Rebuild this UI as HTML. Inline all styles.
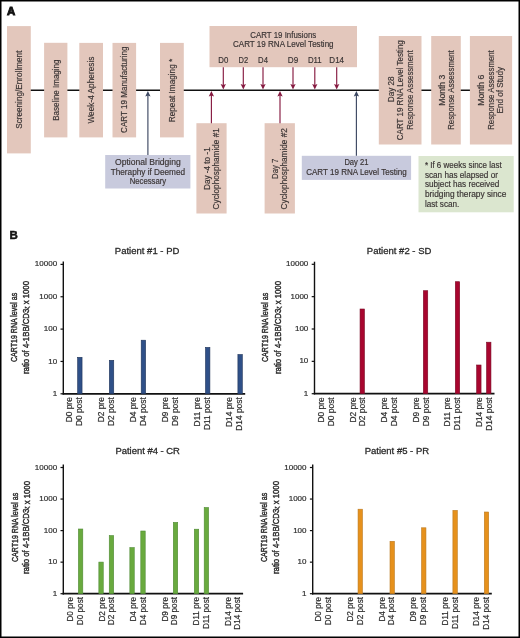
<!DOCTYPE html>
<html><head><meta charset="utf-8"><title>Figure</title>
<style>
html,body{margin:0;padding:0;background:#fff;}
body{width:520px;height:638px;overflow:hidden;}
svg{display:block;font-family:"Liberation Sans", sans-serif;will-change:transform;}
text{stroke-width:0.18px;paint-order:stroke;}
.ct{stroke-width:0.42px;}
</style></head>
<body>
<svg width="520" height="638" viewBox="0 0 520 638">
<rect x="0" y="0" width="520" height="638" fill="#fff"/>
<text x="7.1" y="15.4" font-size="11.4" text-anchor="start" fill="#111" stroke="#111" font-weight="bold" style="stroke-width:0.9px">A</text>
<line x1="30" y1="90.2" x2="470" y2="90.2" stroke="#111" stroke-width="1.4"/>
<rect x="7.0" y="26.1" width="23.8" height="127.3" fill="#e3c7bc"/>
<rect x="44.1" y="42.8" width="23.3" height="94.6" fill="#e3c7bc"/>
<rect x="79.3" y="42.9" width="23.7" height="94.5" fill="#e3c7bc"/>
<rect x="112.5" y="42.9" width="23.6" height="94.5" fill="#e3c7bc"/>
<rect x="160.0" y="42.9" width="23.8" height="94.5" fill="#e3c7bc"/>
<rect x="209.5" y="26.0" width="147.5" height="41.2" fill="#e3c7bc"/>
<rect x="196.4" y="123.2" width="30.2" height="90.3" fill="#e3c7bc"/>
<rect x="264.6" y="123.2" width="30.3" height="90.3" fill="#e3c7bc"/>
<rect x="378.8" y="36.0" width="42.7" height="108.5" fill="#e3c7bc"/>
<rect x="431.2" y="36.0" width="29.6" height="108.5" fill="#e3c7bc"/>
<rect x="469.9" y="36.0" width="42.2" height="108.5" fill="#e3c7bc"/>
<rect x="105.2" y="155.0" width="85.2" height="33.5" fill="#c8cadd"/>
<rect x="301.8" y="155.8" width="109.3" height="24.1" fill="#c8cadd"/>
<rect x="418.5" y="156.0" width="95.2" height="56.3" fill="#dbe6cf"/>
<text transform="translate(18.9,89.7) rotate(-90)" x="0" y="0" font-size="8.7" text-anchor="middle" dominant-baseline="central" fill="#3a3434" stroke="#3a3434" textLength="78.2" lengthAdjust="spacingAndGlyphs">Screening/Enrollment</text>
<text transform="translate(55.75,90.2) rotate(-90)" x="0" y="0" font-size="8.7" text-anchor="middle" dominant-baseline="central" fill="#3a3434" stroke="#3a3434" textLength="61.2" lengthAdjust="spacingAndGlyphs">Baseline Imaging</text>
<text transform="translate(91.15,90.1) rotate(-90)" x="0" y="0" font-size="8.7" text-anchor="middle" dominant-baseline="central" fill="#3a3434" stroke="#3a3434" textLength="67.0" lengthAdjust="spacingAndGlyphs">Week-4 Apheresis</text>
<text transform="translate(124.3,89.75) rotate(-90)" x="0" y="0" font-size="8.7" text-anchor="middle" dominant-baseline="central" fill="#3a3434" stroke="#3a3434" textLength="86.3" lengthAdjust="spacingAndGlyphs">CART 19 Manufacturing</text>
<text transform="translate(171.9,90.5) rotate(-90)" x="0" y="0" font-size="8.7" text-anchor="middle" dominant-baseline="central" fill="#3a3434" stroke="#3a3434" textLength="63.5" lengthAdjust="spacingAndGlyphs">Repeat Imaging *</text>
<text transform="translate(206.6,168.65) rotate(-90)" x="0" y="0" font-size="8.7" text-anchor="middle" dominant-baseline="central" fill="#3a3434" stroke="#3a3434" textLength="42.7" lengthAdjust="spacingAndGlyphs">Day -4 to -1</text>
<text transform="translate(215.6,168.8) rotate(-90)" x="0" y="0" font-size="8.7" text-anchor="middle" dominant-baseline="central" fill="#3a3434" stroke="#3a3434" textLength="81.2" lengthAdjust="spacingAndGlyphs">Cyclophosphamide #1</text>
<text transform="translate(274.6,168.85) rotate(-90)" x="0" y="0" font-size="8.7" text-anchor="middle" dominant-baseline="central" fill="#3a3434" stroke="#3a3434" textLength="20.1" lengthAdjust="spacingAndGlyphs">Day 7</text>
<text transform="translate(284.3,168.8) rotate(-90)" x="0" y="0" font-size="8.7" text-anchor="middle" dominant-baseline="central" fill="#3a3434" stroke="#3a3434" textLength="81.2" lengthAdjust="spacingAndGlyphs">Cyclophosphamide #2</text>
<text transform="translate(390.7,89.3) rotate(-90)" x="0" y="0" font-size="8.7" text-anchor="middle" dominant-baseline="central" fill="#3a3434" stroke="#3a3434" textLength="25.8" lengthAdjust="spacingAndGlyphs">Day 28</text>
<text transform="translate(400.3,90.2) rotate(-90)" x="0" y="0" font-size="8.7" text-anchor="middle" dominant-baseline="central" fill="#3a3434" stroke="#3a3434" textLength="100.0" lengthAdjust="spacingAndGlyphs">CART 19 RNA Level Testing</text>
<text transform="translate(409.8,90.15) rotate(-90)" x="0" y="0" font-size="8.7" text-anchor="middle" dominant-baseline="central" fill="#3a3434" stroke="#3a3434" textLength="79.4" lengthAdjust="spacingAndGlyphs">Response Assessment</text>
<text transform="translate(441.8,90.2) rotate(-90)" x="0" y="0" font-size="8.7" text-anchor="middle" dominant-baseline="central" fill="#3a3434" stroke="#3a3434" textLength="31.0" lengthAdjust="spacingAndGlyphs">Month 3</text>
<text transform="translate(451.3,90.0) rotate(-90)" x="0" y="0" font-size="8.7" text-anchor="middle" dominant-baseline="central" fill="#3a3434" stroke="#3a3434" textLength="79.6" lengthAdjust="spacingAndGlyphs">Response Assessment</text>
<text transform="translate(481.0,90.2) rotate(-90)" x="0" y="0" font-size="8.7" text-anchor="middle" dominant-baseline="central" fill="#3a3434" stroke="#3a3434" textLength="31.0" lengthAdjust="spacingAndGlyphs">Month 6</text>
<text transform="translate(490.6,90.0) rotate(-90)" x="0" y="0" font-size="8.7" text-anchor="middle" dominant-baseline="central" fill="#3a3434" stroke="#3a3434" textLength="79.6" lengthAdjust="spacingAndGlyphs">Response Assessment</text>
<text transform="translate(500.0,90.15) rotate(-90)" x="0" y="0" font-size="8.7" text-anchor="middle" dominant-baseline="central" fill="#3a3434" stroke="#3a3434" textLength="46.5" lengthAdjust="spacingAndGlyphs">End of Study</text>
<text x="283.3" y="37.7" font-size="8.7" text-anchor="middle" fill="#3a3434" stroke="#3a3434" font-weight="normal" textLength="65.9" lengthAdjust="spacingAndGlyphs">CART 19 Infusions</text>
<text x="283.3" y="47.1" font-size="8.7" text-anchor="middle" fill="#3a3434" stroke="#3a3434" font-weight="normal" textLength="100.6" lengthAdjust="spacingAndGlyphs">CART 19 RNA Level Testing</text>
<text x="223.3" y="63.3" font-size="8.7" text-anchor="middle" fill="#3a3434" stroke="#3a3434" font-weight="normal" textLength="10.0" lengthAdjust="spacingAndGlyphs">D0</text>
<line x1="223.3" y1="67.2" x2="223.3" y2="85.6" stroke="#861a40" stroke-width="1.15"/>
<path d="M223.3,89.6 L220.65,84.0 L223.3,84.89999999999999 L225.95000000000002,84.0 Z" fill="#861a40"/>
<text x="243.3" y="63.3" font-size="8.7" text-anchor="middle" fill="#3a3434" stroke="#3a3434" font-weight="normal" textLength="9.6" lengthAdjust="spacingAndGlyphs">D2</text>
<line x1="243.3" y1="67.2" x2="243.3" y2="85.6" stroke="#861a40" stroke-width="1.15"/>
<path d="M243.3,89.6 L240.65,84.0 L243.3,84.89999999999999 L245.95000000000002,84.0 Z" fill="#861a40"/>
<text x="263.0" y="63.3" font-size="8.7" text-anchor="middle" fill="#3a3434" stroke="#3a3434" font-weight="normal" textLength="9.8" lengthAdjust="spacingAndGlyphs">D4</text>
<line x1="263.0" y1="67.2" x2="263.0" y2="85.6" stroke="#861a40" stroke-width="1.15"/>
<path d="M263.0,89.6 L260.35,84.0 L263.0,84.89999999999999 L265.65,84.0 Z" fill="#861a40"/>
<text x="293.0" y="63.3" font-size="8.7" text-anchor="middle" fill="#3a3434" stroke="#3a3434" font-weight="normal" textLength="10.4" lengthAdjust="spacingAndGlyphs">D9</text>
<line x1="293.0" y1="67.2" x2="293.0" y2="85.6" stroke="#861a40" stroke-width="1.15"/>
<path d="M293.0,89.6 L290.35,84.0 L293.0,84.89999999999999 L295.65,84.0 Z" fill="#861a40"/>
<text x="314.8" y="63.3" font-size="8.7" text-anchor="middle" fill="#3a3434" stroke="#3a3434" font-weight="normal" textLength="13.8" lengthAdjust="spacingAndGlyphs">D11</text>
<line x1="314.8" y1="67.2" x2="314.8" y2="85.6" stroke="#861a40" stroke-width="1.15"/>
<path d="M314.8,89.6 L312.15000000000003,84.0 L314.8,84.89999999999999 L317.45,84.0 Z" fill="#861a40"/>
<text x="336.7" y="63.3" font-size="8.7" text-anchor="middle" fill="#3a3434" stroke="#3a3434" font-weight="normal" textLength="14.7" lengthAdjust="spacingAndGlyphs">D14</text>
<line x1="336.7" y1="67.2" x2="336.7" y2="85.6" stroke="#861a40" stroke-width="1.15"/>
<path d="M336.7,89.6 L334.05,84.0 L336.7,84.89999999999999 L339.34999999999997,84.0 Z" fill="#861a40"/>
<line x1="211.4" y1="123.2" x2="211.4" y2="94.9" stroke="#861a40" stroke-width="1.15"/>
<path d="M211.4,90.9 L208.75,96.5 L211.4,95.60000000000001 L214.05,96.5 Z" fill="#861a40"/>
<line x1="280.0" y1="123.2" x2="280.0" y2="94.9" stroke="#861a40" stroke-width="1.15"/>
<path d="M280.0,90.9 L277.35,96.5 L280.0,95.60000000000001 L282.65,96.5 Z" fill="#861a40"/>
<line x1="147.9" y1="155.0" x2="147.9" y2="94.9" stroke="#3d4862" stroke-width="1.15"/>
<path d="M147.9,90.9 L145.25,96.5 L147.9,95.60000000000001 L150.55,96.5 Z" fill="#3d4862"/>
<line x1="356.4" y1="155.8" x2="356.4" y2="94.9" stroke="#3d4862" stroke-width="1.15"/>
<path d="M356.4,90.9 L353.75,96.5 L356.4,95.60000000000001 L359.04999999999995,96.5 Z" fill="#3d4862"/>
<text x="147.9" y="165.2" font-size="8.7" text-anchor="middle" fill="#3a3434" stroke="#3a3434" font-weight="normal" textLength="65.8" lengthAdjust="spacingAndGlyphs">Optional Bridging</text>
<text x="147.9" y="174.65" font-size="8.7" text-anchor="middle" fill="#3a3434" stroke="#3a3434" font-weight="normal" textLength="74.4" lengthAdjust="spacingAndGlyphs">Theraphy if Deemed</text>
<text x="147.9" y="184.1" font-size="8.7" text-anchor="middle" fill="#3a3434" stroke="#3a3434" font-weight="normal" textLength="36.5" lengthAdjust="spacingAndGlyphs">Necessary</text>
<text x="356.4" y="165.4" font-size="8.7" text-anchor="middle" fill="#3a3434" stroke="#3a3434" font-weight="normal" textLength="24.0" lengthAdjust="spacingAndGlyphs">Day 21</text>
<text x="356.4" y="174.6" font-size="8.7" text-anchor="middle" fill="#3a3434" stroke="#3a3434" font-weight="normal" textLength="100.5" lengthAdjust="spacingAndGlyphs">CART 19 RNA Level Testing</text>
<text x="424.9" y="167.8" font-size="8.7" text-anchor="start" fill="#3a3434" stroke="#3a3434" font-weight="normal" textLength="76.8" lengthAdjust="spacingAndGlyphs">* If 6 weeks since last</text>
<text x="424.9" y="177.52" font-size="8.7" text-anchor="start" fill="#3a3434" stroke="#3a3434" font-weight="normal" textLength="73.032" lengthAdjust="spacingAndGlyphs">scan has elapsed or</text>
<text x="424.9" y="187.24" font-size="8.7" text-anchor="start" fill="#3a3434" stroke="#3a3434" font-weight="normal" textLength="74.38860000000001" lengthAdjust="spacingAndGlyphs">subject has received</text>
<text x="424.9" y="196.96" font-size="8.7" text-anchor="start" fill="#3a3434" stroke="#3a3434" font-weight="normal" textLength="81.5" lengthAdjust="spacingAndGlyphs">bridging therapy since</text>
<text x="424.9" y="206.68" font-size="8.7" text-anchor="start" fill="#3a3434" stroke="#3a3434" font-weight="normal" textLength="34.4658" lengthAdjust="spacingAndGlyphs">last scan.</text>
<text x="9.4" y="238.8" font-size="11.5" text-anchor="start" fill="#111" stroke="#111" font-weight="bold" style="stroke-width:0.5px">B</text>
<text x="147.1" y="254.20000000000002" font-size="9.6" text-anchor="middle" fill="#2a2a2a" stroke="#2a2a2a" font-weight="normal" textLength="64.5" lengthAdjust="spacingAndGlyphs" style="stroke-width:0.3px">Patient #1 - PD</text>
<line x1="63.3" y1="261.5" x2="63.3" y2="394.5" stroke="#111" stroke-width="1.4"/>
<line x1="62.599999999999994" y1="393.8" x2="245.2" y2="393.8" stroke="#111" stroke-width="1.8"/>
<line x1="60.5" y1="393.8" x2="63.3" y2="393.8" stroke="#111" stroke-width="1.2"/>
<text x="57.099999999999994" y="393.35" font-size="8.0" text-anchor="end" dominant-baseline="central" fill="#2a2a2a" stroke="#2a2a2a">1</text>
<line x1="60.5" y1="361.45" x2="63.3" y2="361.45" stroke="#111" stroke-width="1.2"/>
<text x="57.099999999999994" y="361.0" font-size="8.0" text-anchor="end" dominant-baseline="central" fill="#2a2a2a" stroke="#2a2a2a">10</text>
<line x1="60.5" y1="329.1" x2="63.3" y2="329.1" stroke="#111" stroke-width="1.2"/>
<text x="57.099999999999994" y="328.65000000000003" font-size="8.0" text-anchor="end" dominant-baseline="central" fill="#2a2a2a" stroke="#2a2a2a">100</text>
<line x1="60.5" y1="296.75" x2="63.3" y2="296.75" stroke="#111" stroke-width="1.2"/>
<text x="57.099999999999994" y="296.3" font-size="8.0" text-anchor="end" dominant-baseline="central" fill="#2a2a2a" stroke="#2a2a2a">1000</text>
<line x1="60.5" y1="264.4" x2="63.3" y2="264.4" stroke="#111" stroke-width="1.2"/>
<text x="57.099999999999994" y="263.95" font-size="8.0" text-anchor="end" dominant-baseline="central" fill="#2a2a2a" stroke="#2a2a2a">10000</text>
<rect x="77.65" y="357.30" width="4.4" height="36.50" fill="#2f5088" stroke="#1f3358" stroke-width="0.6"/>
<rect x="109.35" y="360.30" width="4.4" height="33.50" fill="#2f5088" stroke="#1f3358" stroke-width="0.6"/>
<rect x="141.20" y="340.20" width="4.4" height="53.60" fill="#2f5088" stroke="#1f3358" stroke-width="0.6"/>
<rect x="205.50" y="347.40" width="4.4" height="46.40" fill="#2f5088" stroke="#1f3358" stroke-width="0.6"/>
<rect x="237.90" y="354.50" width="4.4" height="39.30" fill="#2f5088" stroke="#1f3358" stroke-width="0.6"/>
<text transform="translate(69.2,397.2) rotate(-90)" x="0" y="0" font-size="8.4" text-anchor="end" dominant-baseline="central" fill="#2a2a2a" stroke="#2a2a2a">D0 pre</text>
<text transform="translate(79.0,397.2) rotate(-90)" x="0" y="0" font-size="8.4" text-anchor="end" dominant-baseline="central" fill="#2a2a2a" stroke="#2a2a2a">D0 post</text>
<text transform="translate(101.25,397.2) rotate(-90)" x="0" y="0" font-size="8.4" text-anchor="end" dominant-baseline="central" fill="#2a2a2a" stroke="#2a2a2a">D2 pre</text>
<text transform="translate(111.05,397.2) rotate(-90)" x="0" y="0" font-size="8.4" text-anchor="end" dominant-baseline="central" fill="#2a2a2a" stroke="#2a2a2a">D2 post</text>
<text transform="translate(133.3,397.2) rotate(-90)" x="0" y="0" font-size="8.4" text-anchor="end" dominant-baseline="central" fill="#2a2a2a" stroke="#2a2a2a">D4 pre</text>
<text transform="translate(143.1,397.2) rotate(-90)" x="0" y="0" font-size="8.4" text-anchor="end" dominant-baseline="central" fill="#2a2a2a" stroke="#2a2a2a">D4 post</text>
<text transform="translate(165.35,397.2) rotate(-90)" x="0" y="0" font-size="8.4" text-anchor="end" dominant-baseline="central" fill="#2a2a2a" stroke="#2a2a2a">D9 pre</text>
<text transform="translate(175.15,397.2) rotate(-90)" x="0" y="0" font-size="8.4" text-anchor="end" dominant-baseline="central" fill="#2a2a2a" stroke="#2a2a2a">D9 post</text>
<text transform="translate(197.4,397.2) rotate(-90)" x="0" y="0" font-size="8.4" text-anchor="end" dominant-baseline="central" fill="#2a2a2a" stroke="#2a2a2a">D11 pre</text>
<text transform="translate(207.2,397.2) rotate(-90)" x="0" y="0" font-size="8.4" text-anchor="end" dominant-baseline="central" fill="#2a2a2a" stroke="#2a2a2a">D11 post</text>
<text transform="translate(229.45,397.2) rotate(-90)" x="0" y="0" font-size="8.4" text-anchor="end" dominant-baseline="central" fill="#2a2a2a" stroke="#2a2a2a">D14 pre</text>
<text transform="translate(239.25,397.2) rotate(-90)" x="0" y="0" font-size="8.4" text-anchor="end" dominant-baseline="central" fill="#2a2a2a" stroke="#2a2a2a">D14 post</text>
<text transform="translate(13.5,327.4) rotate(-90)" x="0" y="0" font-size="9.5" text-anchor="middle" dominant-baseline="central" fill="#2a2a2a" stroke="#2a2a2a" textLength="69.2" lengthAdjust="spacingAndGlyphs" class="ct">CART19 RNA level as</text>
<text transform="translate(25.2,327.5) rotate(-90)" x="0" y="0" font-size="9.5" text-anchor="middle" dominant-baseline="central" fill="#2a2a2a" stroke="#2a2a2a" textLength="93.0" lengthAdjust="spacingAndGlyphs" class="ct">ratio of 4-1BB/CD3<tspan font-size="6" dy="1.5">ζ</tspan><tspan dy="-1.5"> x 1000</tspan></text>
<text x="399.1" y="254.20000000000002" font-size="9.6" text-anchor="middle" fill="#2a2a2a" stroke="#2a2a2a" font-weight="normal" textLength="64.5" lengthAdjust="spacingAndGlyphs" style="stroke-width:0.3px">Patient #2 - SD</text>
<line x1="314.5" y1="261.7" x2="314.5" y2="394.4" stroke="#111" stroke-width="1.4"/>
<line x1="313.8" y1="393.7" x2="494.5" y2="393.7" stroke="#111" stroke-width="1.8"/>
<line x1="311.7" y1="393.7" x2="314.5" y2="393.7" stroke="#111" stroke-width="1.2"/>
<text x="308.3" y="393.25" font-size="8.0" text-anchor="end" dominant-baseline="central" fill="#2a2a2a" stroke="#2a2a2a">1</text>
<line x1="311.7" y1="361.34999999999997" x2="314.5" y2="361.34999999999997" stroke="#111" stroke-width="1.2"/>
<text x="308.3" y="360.9" font-size="8.0" text-anchor="end" dominant-baseline="central" fill="#2a2a2a" stroke="#2a2a2a">10</text>
<line x1="311.7" y1="329.0" x2="314.5" y2="329.0" stroke="#111" stroke-width="1.2"/>
<text x="308.3" y="328.55" font-size="8.0" text-anchor="end" dominant-baseline="central" fill="#2a2a2a" stroke="#2a2a2a">100</text>
<line x1="311.7" y1="296.65" x2="314.5" y2="296.65" stroke="#111" stroke-width="1.2"/>
<text x="308.3" y="296.2" font-size="8.0" text-anchor="end" dominant-baseline="central" fill="#2a2a2a" stroke="#2a2a2a">1000</text>
<line x1="311.7" y1="264.29999999999995" x2="314.5" y2="264.29999999999995" stroke="#111" stroke-width="1.2"/>
<text x="308.3" y="263.84999999999997" font-size="8.0" text-anchor="end" dominant-baseline="central" fill="#2a2a2a" stroke="#2a2a2a">10000</text>
<rect x="360.05" y="309.00" width="4.4" height="84.70" fill="#a8062f" stroke="#780a25" stroke-width="0.6"/>
<rect x="423.35" y="290.70" width="4.4" height="103.00" fill="#a8062f" stroke="#780a25" stroke-width="0.6"/>
<rect x="455.30" y="281.70" width="4.4" height="112.00" fill="#a8062f" stroke="#780a25" stroke-width="0.6"/>
<rect x="476.65" y="365.00" width="4.4" height="28.70" fill="#a8062f" stroke="#780a25" stroke-width="0.6"/>
<rect x="486.55" y="342.20" width="4.4" height="51.50" fill="#a8062f" stroke="#780a25" stroke-width="0.6"/>
<text transform="translate(320.9,397.3) rotate(-90)" x="0" y="0" font-size="8.4" text-anchor="end" dominant-baseline="central" fill="#2a2a2a" stroke="#2a2a2a">D0 pre</text>
<text transform="translate(330.7,397.3) rotate(-90)" x="0" y="0" font-size="8.4" text-anchor="end" dominant-baseline="central" fill="#2a2a2a" stroke="#2a2a2a">D0 post</text>
<text transform="translate(352.5,397.3) rotate(-90)" x="0" y="0" font-size="8.4" text-anchor="end" dominant-baseline="central" fill="#2a2a2a" stroke="#2a2a2a">D2 pre</text>
<text transform="translate(362.3,397.3) rotate(-90)" x="0" y="0" font-size="8.4" text-anchor="end" dominant-baseline="central" fill="#2a2a2a" stroke="#2a2a2a">D2 post</text>
<text transform="translate(384.1,397.3) rotate(-90)" x="0" y="0" font-size="8.4" text-anchor="end" dominant-baseline="central" fill="#2a2a2a" stroke="#2a2a2a">D4 pre</text>
<text transform="translate(393.9,397.3) rotate(-90)" x="0" y="0" font-size="8.4" text-anchor="end" dominant-baseline="central" fill="#2a2a2a" stroke="#2a2a2a">D4 post</text>
<text transform="translate(415.7,397.3) rotate(-90)" x="0" y="0" font-size="8.4" text-anchor="end" dominant-baseline="central" fill="#2a2a2a" stroke="#2a2a2a">D9 pre</text>
<text transform="translate(425.5,397.3) rotate(-90)" x="0" y="0" font-size="8.4" text-anchor="end" dominant-baseline="central" fill="#2a2a2a" stroke="#2a2a2a">D9 post</text>
<text transform="translate(447.3,397.3) rotate(-90)" x="0" y="0" font-size="8.4" text-anchor="end" dominant-baseline="central" fill="#2a2a2a" stroke="#2a2a2a">D11 pre</text>
<text transform="translate(457.1,397.3) rotate(-90)" x="0" y="0" font-size="8.4" text-anchor="end" dominant-baseline="central" fill="#2a2a2a" stroke="#2a2a2a">D11 post</text>
<text transform="translate(478.9,397.3) rotate(-90)" x="0" y="0" font-size="8.4" text-anchor="end" dominant-baseline="central" fill="#2a2a2a" stroke="#2a2a2a">D14 pre</text>
<text transform="translate(488.7,397.3) rotate(-90)" x="0" y="0" font-size="8.4" text-anchor="end" dominant-baseline="central" fill="#2a2a2a" stroke="#2a2a2a">D14 post</text>
<text transform="translate(264.9,327.4) rotate(-90)" x="0" y="0" font-size="9.5" text-anchor="middle" dominant-baseline="central" fill="#2a2a2a" stroke="#2a2a2a" textLength="69.2" lengthAdjust="spacingAndGlyphs" class="ct">CART19 RNA level as</text>
<text transform="translate(277.3,327.5) rotate(-90)" x="0" y="0" font-size="9.5" text-anchor="middle" dominant-baseline="central" fill="#2a2a2a" stroke="#2a2a2a" textLength="93.0" lengthAdjust="spacingAndGlyphs" class="ct">ratio of 4-1BB/CD3<tspan font-size="6" dy="1.5">ζ</tspan><tspan dy="-1.5"> x 1000</tspan></text>
<text x="147.7" y="454.2" font-size="9.6" text-anchor="middle" fill="#2a2a2a" stroke="#2a2a2a" font-weight="normal" textLength="64.5" lengthAdjust="spacingAndGlyphs" style="stroke-width:0.3px">Patient #4 - CR</text>
<line x1="63.3" y1="464.4" x2="63.3" y2="594.4000000000001" stroke="#111" stroke-width="1.4"/>
<line x1="62.599999999999994" y1="593.7" x2="243.1" y2="593.7" stroke="#111" stroke-width="1.8"/>
<line x1="60.5" y1="593.7" x2="63.3" y2="593.7" stroke="#111" stroke-width="1.2"/>
<text x="57.099999999999994" y="593.25" font-size="8.0" text-anchor="end" dominant-baseline="central" fill="#2a2a2a" stroke="#2a2a2a">1</text>
<line x1="60.5" y1="562.1500000000001" x2="63.3" y2="562.1500000000001" stroke="#111" stroke-width="1.2"/>
<text x="57.099999999999994" y="561.7" font-size="8.0" text-anchor="end" dominant-baseline="central" fill="#2a2a2a" stroke="#2a2a2a">10</text>
<line x1="60.5" y1="530.6" x2="63.3" y2="530.6" stroke="#111" stroke-width="1.2"/>
<text x="57.099999999999994" y="530.15" font-size="8.0" text-anchor="end" dominant-baseline="central" fill="#2a2a2a" stroke="#2a2a2a">100</text>
<line x1="60.5" y1="499.05000000000007" x2="63.3" y2="499.05000000000007" stroke="#111" stroke-width="1.2"/>
<text x="57.099999999999994" y="498.6000000000001" font-size="8.0" text-anchor="end" dominant-baseline="central" fill="#2a2a2a" stroke="#2a2a2a">1000</text>
<line x1="60.5" y1="467.50000000000006" x2="63.3" y2="467.50000000000006" stroke="#111" stroke-width="1.2"/>
<text x="57.099999999999994" y="467.05000000000007" font-size="8.0" text-anchor="end" dominant-baseline="central" fill="#2a2a2a" stroke="#2a2a2a">10000</text>
<rect x="78.40" y="529.00" width="4.4" height="64.70" fill="#69aa3e" stroke="#4f8a35" stroke-width="0.6"/>
<rect x="98.85" y="562.10" width="4.4" height="31.60" fill="#69aa3e" stroke="#4f8a35" stroke-width="0.6"/>
<rect x="109.25" y="535.60" width="4.4" height="58.10" fill="#69aa3e" stroke="#4f8a35" stroke-width="0.6"/>
<rect x="129.85" y="547.60" width="4.4" height="46.10" fill="#69aa3e" stroke="#4f8a35" stroke-width="0.6"/>
<rect x="140.80" y="531.00" width="4.4" height="62.70" fill="#69aa3e" stroke="#4f8a35" stroke-width="0.6"/>
<rect x="173.30" y="522.40" width="4.4" height="71.30" fill="#69aa3e" stroke="#4f8a35" stroke-width="0.6"/>
<rect x="194.30" y="529.20" width="4.4" height="64.50" fill="#69aa3e" stroke="#4f8a35" stroke-width="0.6"/>
<rect x="204.20" y="507.50" width="4.4" height="86.20" fill="#69aa3e" stroke="#4f8a35" stroke-width="0.6"/>
<text transform="translate(70.6,597.0) rotate(-90)" x="0" y="0" font-size="8.19" text-anchor="end" dominant-baseline="central" fill="#2a2a2a" stroke="#2a2a2a">D0 pre</text>
<text transform="translate(80.4,597.0) rotate(-90)" x="0" y="0" font-size="8.19" text-anchor="end" dominant-baseline="central" fill="#2a2a2a" stroke="#2a2a2a">D0 post</text>
<text transform="translate(102.1,597.0) rotate(-90)" x="0" y="0" font-size="8.19" text-anchor="end" dominant-baseline="central" fill="#2a2a2a" stroke="#2a2a2a">D2 pre</text>
<text transform="translate(111.9,597.0) rotate(-90)" x="0" y="0" font-size="8.19" text-anchor="end" dominant-baseline="central" fill="#2a2a2a" stroke="#2a2a2a">D2 post</text>
<text transform="translate(133.6,597.0) rotate(-90)" x="0" y="0" font-size="8.19" text-anchor="end" dominant-baseline="central" fill="#2a2a2a" stroke="#2a2a2a">D4 pre</text>
<text transform="translate(143.4,597.0) rotate(-90)" x="0" y="0" font-size="8.19" text-anchor="end" dominant-baseline="central" fill="#2a2a2a" stroke="#2a2a2a">D4 post</text>
<text transform="translate(165.1,597.0) rotate(-90)" x="0" y="0" font-size="8.19" text-anchor="end" dominant-baseline="central" fill="#2a2a2a" stroke="#2a2a2a">D9 pre</text>
<text transform="translate(174.9,597.0) rotate(-90)" x="0" y="0" font-size="8.19" text-anchor="end" dominant-baseline="central" fill="#2a2a2a" stroke="#2a2a2a">D9 post</text>
<text transform="translate(196.6,597.0) rotate(-90)" x="0" y="0" font-size="8.19" text-anchor="end" dominant-baseline="central" fill="#2a2a2a" stroke="#2a2a2a">D11 pre</text>
<text transform="translate(206.4,597.0) rotate(-90)" x="0" y="0" font-size="8.19" text-anchor="end" dominant-baseline="central" fill="#2a2a2a" stroke="#2a2a2a">D11 post</text>
<text transform="translate(228.1,597.0) rotate(-90)" x="0" y="0" font-size="8.19" text-anchor="end" dominant-baseline="central" fill="#2a2a2a" stroke="#2a2a2a">D14 pre</text>
<text transform="translate(237.9,597.0) rotate(-90)" x="0" y="0" font-size="8.19" text-anchor="end" dominant-baseline="central" fill="#2a2a2a" stroke="#2a2a2a">D14 post</text>
<text transform="translate(14.1,527.4) rotate(-90)" x="0" y="0" font-size="9.5" text-anchor="middle" dominant-baseline="central" fill="#2a2a2a" stroke="#2a2a2a" textLength="69.2" lengthAdjust="spacingAndGlyphs" class="ct">CART19 RNA level as</text>
<text transform="translate(25.6,527.5) rotate(-90)" x="0" y="0" font-size="9.5" text-anchor="middle" dominant-baseline="central" fill="#2a2a2a" stroke="#2a2a2a" textLength="93.0" lengthAdjust="spacingAndGlyphs" class="ct">ratio of 4-1BB/CD3<tspan font-size="6" dy="1.5">ζ</tspan><tspan dy="-1.5"> x 1000</tspan></text>
<text x="396.9" y="454.2" font-size="9.6" text-anchor="middle" fill="#2a2a2a" stroke="#2a2a2a" font-weight="normal" textLength="64.5" lengthAdjust="spacingAndGlyphs" style="stroke-width:0.3px">Patient #5 - PR</text>
<line x1="312.7" y1="464.4" x2="312.7" y2="594.4000000000001" stroke="#111" stroke-width="1.4"/>
<line x1="312.0" y1="593.7" x2="491.8" y2="593.7" stroke="#111" stroke-width="1.8"/>
<line x1="309.9" y1="593.7" x2="312.7" y2="593.7" stroke="#111" stroke-width="1.2"/>
<text x="306.5" y="593.25" font-size="8.0" text-anchor="end" dominant-baseline="central" fill="#2a2a2a" stroke="#2a2a2a">1</text>
<line x1="309.9" y1="562.1500000000001" x2="312.7" y2="562.1500000000001" stroke="#111" stroke-width="1.2"/>
<text x="306.5" y="561.7" font-size="8.0" text-anchor="end" dominant-baseline="central" fill="#2a2a2a" stroke="#2a2a2a">10</text>
<line x1="309.9" y1="530.6" x2="312.7" y2="530.6" stroke="#111" stroke-width="1.2"/>
<text x="306.5" y="530.15" font-size="8.0" text-anchor="end" dominant-baseline="central" fill="#2a2a2a" stroke="#2a2a2a">100</text>
<line x1="309.9" y1="499.05000000000007" x2="312.7" y2="499.05000000000007" stroke="#111" stroke-width="1.2"/>
<text x="306.5" y="498.6000000000001" font-size="8.0" text-anchor="end" dominant-baseline="central" fill="#2a2a2a" stroke="#2a2a2a">1000</text>
<line x1="309.9" y1="467.50000000000006" x2="312.7" y2="467.50000000000006" stroke="#111" stroke-width="1.2"/>
<text x="306.5" y="467.05000000000007" font-size="8.0" text-anchor="end" dominant-baseline="central" fill="#2a2a2a" stroke="#2a2a2a">10000</text>
<rect x="358.05" y="509.20" width="4.4" height="84.50" fill="#e6911c" stroke="#bb7a22" stroke-width="0.6"/>
<rect x="390.00" y="541.30" width="4.4" height="52.40" fill="#e6911c" stroke="#bb7a22" stroke-width="0.6"/>
<rect x="421.55" y="527.80" width="4.4" height="65.90" fill="#e6911c" stroke="#bb7a22" stroke-width="0.6"/>
<rect x="452.90" y="510.40" width="4.4" height="83.30" fill="#e6911c" stroke="#bb7a22" stroke-width="0.6"/>
<rect x="484.30" y="512.00" width="4.4" height="81.70" fill="#e6911c" stroke="#bb7a22" stroke-width="0.6"/>
<text transform="translate(318.8,597.0) rotate(-90)" x="0" y="0" font-size="8.19" text-anchor="end" dominant-baseline="central" fill="#2a2a2a" stroke="#2a2a2a">D0 pre</text>
<text transform="translate(328.6,597.0) rotate(-90)" x="0" y="0" font-size="8.19" text-anchor="end" dominant-baseline="central" fill="#2a2a2a" stroke="#2a2a2a">D0 post</text>
<text transform="translate(350.4,597.0) rotate(-90)" x="0" y="0" font-size="8.19" text-anchor="end" dominant-baseline="central" fill="#2a2a2a" stroke="#2a2a2a">D2 pre</text>
<text transform="translate(360.2,597.0) rotate(-90)" x="0" y="0" font-size="8.19" text-anchor="end" dominant-baseline="central" fill="#2a2a2a" stroke="#2a2a2a">D2 post</text>
<text transform="translate(382.0,597.0) rotate(-90)" x="0" y="0" font-size="8.19" text-anchor="end" dominant-baseline="central" fill="#2a2a2a" stroke="#2a2a2a">D4 pre</text>
<text transform="translate(391.8,597.0) rotate(-90)" x="0" y="0" font-size="8.19" text-anchor="end" dominant-baseline="central" fill="#2a2a2a" stroke="#2a2a2a">D4 post</text>
<text transform="translate(413.6,597.0) rotate(-90)" x="0" y="0" font-size="8.19" text-anchor="end" dominant-baseline="central" fill="#2a2a2a" stroke="#2a2a2a">D9 pre</text>
<text transform="translate(423.4,597.0) rotate(-90)" x="0" y="0" font-size="8.19" text-anchor="end" dominant-baseline="central" fill="#2a2a2a" stroke="#2a2a2a">D9 post</text>
<text transform="translate(445.2,597.0) rotate(-90)" x="0" y="0" font-size="8.19" text-anchor="end" dominant-baseline="central" fill="#2a2a2a" stroke="#2a2a2a">D11 pre</text>
<text transform="translate(455.0,597.0) rotate(-90)" x="0" y="0" font-size="8.19" text-anchor="end" dominant-baseline="central" fill="#2a2a2a" stroke="#2a2a2a">D11 post</text>
<text transform="translate(476.8,597.0) rotate(-90)" x="0" y="0" font-size="8.19" text-anchor="end" dominant-baseline="central" fill="#2a2a2a" stroke="#2a2a2a">D14 pre</text>
<text transform="translate(486.6,597.0) rotate(-90)" x="0" y="0" font-size="8.19" text-anchor="end" dominant-baseline="central" fill="#2a2a2a" stroke="#2a2a2a">D14 post</text>
<text transform="translate(263.3,527.4) rotate(-90)" x="0" y="0" font-size="9.5" text-anchor="middle" dominant-baseline="central" fill="#2a2a2a" stroke="#2a2a2a" textLength="69.2" lengthAdjust="spacingAndGlyphs" class="ct">CART19 RNA level as</text>
<text transform="translate(275.2,527.5) rotate(-90)" x="0" y="0" font-size="9.5" text-anchor="middle" dominant-baseline="central" fill="#2a2a2a" stroke="#2a2a2a" textLength="93.0" lengthAdjust="spacingAndGlyphs" class="ct">ratio of 4-1BB/CD3<tspan font-size="6" dy="1.5">ζ</tspan><tspan dy="-1.5"> x 1000</tspan></text>
<rect x="0" y="0" width="520" height="1.5" fill="#000"/>
<rect x="0" y="0" width="1.5" height="638" fill="#000"/>
<rect x="518.5" y="0" width="1.5" height="638" fill="#000"/>
<rect x="0" y="636.5" width="520" height="1.5" fill="#000"/>
</svg>
</body></html>
